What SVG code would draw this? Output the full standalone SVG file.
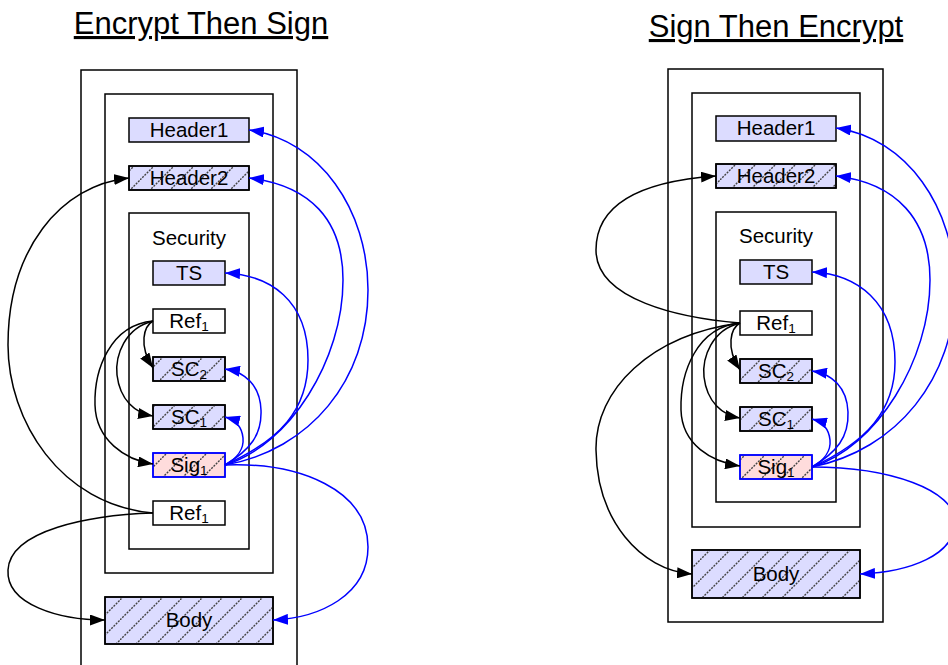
<svg xmlns="http://www.w3.org/2000/svg" width="948" height="665" viewBox="0 0 948 665">
<style>
.title{font-family:"Liberation Sans",Arial,sans-serif;font-size:31px;text-anchor:middle;text-decoration:underline;fill:#000}
.lbl{font-family:"Liberation Sans",Arial,sans-serif;font-size:20.5px;text-anchor:middle;fill:#000}
.sub{font-size:13.5px}
.box{fill:none;stroke:#000;stroke-width:1.5}
.n{fill:#dcdcff;stroke:#000;stroke-width:1.5}
.w{fill:#fff;stroke:#000;stroke-width:1.5}
.sig{fill:#ffdcdc;stroke:#0000ff;stroke-width:1.5}
.h{fill:url(#hatch);stroke:none}
.cb{fill:none;stroke:#0000ff;stroke-width:1.5;marker-end:url(#ab)}
.ck{fill:none;stroke:#000;stroke-width:1.5;marker-end:url(#ak)}
</style>
<defs>
<pattern id="hatch" patternUnits="userSpaceOnUse" width="20" height="20">
<path d="M0,20 L20,0" stroke="#444" stroke-width="1.4" stroke-dasharray="2 1.2" fill="none"/>
</pattern>
<marker id="ab" markerUnits="userSpaceOnUse" markerWidth="15" markerHeight="11" viewBox="0 0 15 11" refX="15" refY="5.5" orient="auto"><path d="M0,0 L15,5.5 L0,11 z" fill="#0000ff"/></marker>
<marker id="ak" markerUnits="userSpaceOnUse" markerWidth="15" markerHeight="11" viewBox="0 0 15 11" refX="15" refY="5.5" orient="auto"><path d="M0,0 L15,5.5 L0,11 z" fill="#000"/></marker>
</defs>
<rect x="0" y="0" width="948" height="665" fill="#fff"/>

<!-- Left diagram -->
<g id="left-title"><text class="title" x="201" y="34">Encrypt Then Sign</text></g>
<g id="L-envelope"><rect class="box" x="81" y="70" width="216" height="640"/></g>
<g id="L-header"><rect class="box" x="105" y="94" width="168" height="479"/></g>
<g id="L-header1"><rect class="n" x="129" y="118" width="120" height="24"/><text class="lbl" x="189" y="137">Header1</text></g>
<g id="L-header2"><rect class="n" x="129" y="166" width="120" height="24"/><rect class="h" x="129" y="166" width="120" height="24"/><rect class="box" x="129" y="166" width="120" height="24"/><text class="lbl" x="189" y="185">Header2</text></g>
<g id="L-security"><rect class="box" x="129" y="213" width="120" height="336"/><text class="lbl" x="189" y="245">Security</text></g>
<g id="L-ts"><rect class="n" x="153" y="261" width="72" height="24"/><text class="lbl" x="189" y="280">TS</text></g>
<g id="L-ref1"><rect class="w" x="153" y="309" width="72" height="24"/><text class="lbl" x="189" y="327.5">Ref<tspan class="sub" dy="3">1</tspan></text></g>
<g id="L-sc2"><rect class="n" x="153" y="357" width="72" height="24"/><rect class="h" x="153" y="357" width="72" height="24"/><rect class="box" x="153" y="357" width="72" height="24"/><text class="lbl" x="189" y="375.5">SC<tspan class="sub" dy="3">2</tspan></text></g>
<g id="L-sc1"><rect class="n" x="153" y="405" width="72" height="24"/><rect class="h" x="153" y="405" width="72" height="24"/><rect class="box" x="153" y="405" width="72" height="24"/><text class="lbl" x="189" y="423.5">SC<tspan class="sub" dy="3">1</tspan></text></g>
<g id="L-sig1"><rect class="sig" x="153" y="453" width="72" height="24"/><rect class="h" x="153" y="453" width="72" height="24"/><rect x="153" y="453" width="72" height="24" fill="none" stroke="#0000ff" stroke-width="1.5"/><text class="lbl" x="189" y="471.5">Sig<tspan class="sub" dy="3">1</tspan></text></g>
<g id="L-ref1b"><rect class="w" x="153" y="501" width="72" height="24"/><text class="lbl" x="189" y="519.5">Ref<tspan class="sub" dy="3">1</tspan></text></g>
<g id="L-body"><rect class="n" x="105" y="597" width="168" height="47"/><rect class="h" x="105" y="597" width="168" height="47"/><rect class="box" x="105" y="597" width="168" height="47"/><text class="lbl" x="189" y="627">Body</text></g>

<!-- Right diagram -->
<g id="right-title"><text class="title" x="776" y="37">Sign Then Encrypt</text></g>
<g id="R-envelope"><rect class="box" x="668" y="69" width="215" height="553"/></g>
<g id="R-header"><rect class="box" x="692" y="93" width="168" height="434"/></g>
<g id="R-header1"><rect class="n" x="716" y="116" width="120" height="25"/><text class="lbl" x="776" y="135">Header1</text></g>
<g id="R-header2"><rect class="n" x="716" y="164" width="120" height="24"/><rect class="h" x="716" y="164" width="120" height="24"/><rect class="box" x="716" y="164" width="120" height="24"/><text class="lbl" x="776" y="183">Header2</text></g>
<g id="R-security"><rect class="box" x="716" y="212" width="120" height="290"/><text class="lbl" x="776" y="243">Security</text></g>
<g id="R-ts"><rect class="n" x="740" y="260" width="72" height="24"/><text class="lbl" x="776" y="278.5">TS</text></g>
<g id="R-ref1"><rect class="w" x="740" y="311" width="72" height="24"/><text class="lbl" x="776" y="329.5">Ref<tspan class="sub" dy="3">1</tspan></text></g>
<g id="R-sc2"><rect class="n" x="740" y="359" width="72" height="24"/><rect class="h" x="740" y="359" width="72" height="24"/><rect class="box" x="740" y="359" width="72" height="24"/><text class="lbl" x="776" y="377.5">SC<tspan class="sub" dy="3">2</tspan></text></g>
<g id="R-sc1"><rect class="n" x="740" y="407" width="72" height="24"/><rect class="h" x="740" y="407" width="72" height="24"/><rect class="box" x="740" y="407" width="72" height="24"/><text class="lbl" x="776" y="425.5">SC<tspan class="sub" dy="3">1</tspan></text></g>
<g id="R-sig1"><rect class="sig" x="740" y="455" width="72" height="24"/><rect class="h" x="740" y="455" width="72" height="24"/><rect x="740" y="455" width="72" height="24" fill="none" stroke="#0000ff" stroke-width="1.5"/><text class="lbl" x="776" y="473.5">Sig<tspan class="sub" dy="3">1</tspan></text></g>
<g id="R-body"><rect class="n" x="692" y="550" width="168" height="48"/><rect class="h" x="692" y="550" width="168" height="48"/><rect class="box" x="692" y="550" width="168" height="48"/><text class="lbl" x="776" y="580.5">Body</text></g>

<g id="connectors">
<!-- left blue -->
<path class="cb" d="M225,465 C310,450 368,380 368,290 C368,210 320,140 249,130"/>
<path class="cb" d="M225,465 C290,445 343,360 343,280 C343,220 310,185 249,178"/>
<path class="cb" d="M225,465 C280,440 308,410 308,360 C308,300 270,275 225,273"/>
<path class="cb" d="M225,465 C250,450 262,435 261,410 C260,385 245,372 225,369"/>
<path class="cb" d="M225,465 C238,458 244,448 243,438 C242,428 236,420 225,417"/>
<path class="cb" d="M225,465 C300,462 368,490 368,547 C368,595 320,618 273,620"/>
<!-- left black -->
<path class="ck" d="M153,513 C60,505 8,420 8,345 C8,250 60,185 129,178"/>
<path class="ck" d="M153,513 C90,515 10,530 8,570 C6,605 60,620 105,620"/>
<path class="ck" d="M153,321 C144,326 138,345 153,368"/>
<path class="ck" d="M153,321 C125,328 115,355 117,375 C120,400 135,413 153,416"/>
<path class="ck" d="M153,321 C110,325 94,370 95,405 C96,440 125,460 153,464"/>
<!-- right blue -->
<path class="cb" d="M812,467 C897,450 955,378 955,288 C955,208 907,138 836,128"/>
<path class="cb" d="M812,467 C877,447 930,360 930,280 C930,220 897,183 836,176"/>
<path class="cb" d="M812,467 C867,442 895,410 895,362 C895,302 857,274 812,272"/>
<path class="cb" d="M812,467 C837,452 849,437 848,412 C847,387 832,374 812,371"/>
<path class="cb" d="M812,467 C825,460 831,450 830,440 C829,430 823,422 812,419"/>
<path class="cb" d="M812,467 C890,467 955,490 955,522 C955,555 910,572 860,574"/>
<!-- right black -->
<path class="ck" d="M740,323 C680,318 596,300 596,250 C596,195 660,180 716,176"/>
<path class="ck" d="M740,323 C650,335 595,390 596,450 C597,520 640,570 692,574"/>
<path class="ck" d="M740,323 C731,328 725,347 740,370"/>
<path class="ck" d="M740,323 C712,330 702,357 704,377 C707,402 722,415 740,418"/>
<path class="ck" d="M740,323 C697,327 680,372 681,410 C682,445 712,462 740,466"/>
</g>
</svg>
